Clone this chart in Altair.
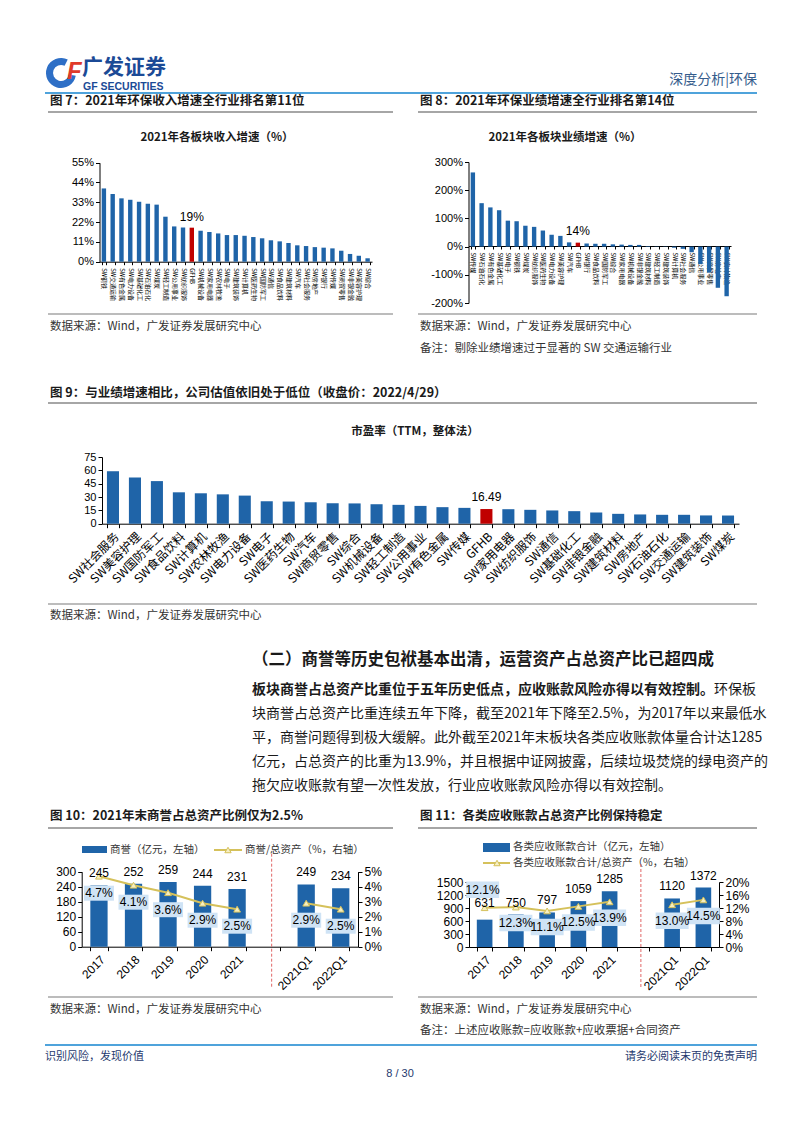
import altair as alt
import pandas as pd

W, H = 786, 1117


def P(v):
    return v - 8


FONT = "Liberation Sans, Noto Sans CJK SC, sans-serif"
CJK = "Noto Sans CJK SC, Liberation Sans, sans-serif"
BLUE = "#1F64A8"
RED = "#C00000"
GOLD = "#D5C15B"
TRI_FILL = "#F6EFC2"
BOX = "#CFE3F5"
INK = "#1A1A1A"
GRAY_LINE = "#A6A6A6"
HEAD_BLUE = "#4FA3DB"

ONE = pd.DataFrame({"k": [0]})

# ---------------- data ----------------
f7_cats = ["SW钢铁", "SW交通运输", "SW有色金属", "SW电力设备", "SW基础化工", "SW石油石化", "SW煤炭",
           "SW轻工制造", "SW公用事业", "SW纺织服饰", "GFHB", "SW机械设备", "SW家用电器", "SW农林牧渔",
           "SW电子", "SW建筑装饰", "SW计算机", "SW医药生物", "SW国防军工", "SW通信", "SW食品饮料",
           "SW建筑材料", "SW汽车", "SW社会服务", "SW房地产", "SW银行", "SW传媒", "SW商贸零售",
           "SW非银金融", "SW美容护理", "SW综合"]
f7_vals = [40.7, 37.6, 35.2, 34.4, 33.3, 32.2, 31.7, 25.0, 19.6, 19.0, 18.9, 17.2, 16.5, 15.7,
           14.8, 14.8, 14.4, 13.7, 13.0, 11.9, 11.3, 10.4, 9.1, 8.7, 8.1, 7.8, 7.4, 6.1, 4.3, 3.3, 1.9]
f7_ticks = [0, 11, 22, 33, 44, 55]

f8_cats = ["SW传媒", "SW石油石化", "SW有色金属", "SW基础化工", "SW电子", "SW钢铁", "SW煤炭",
           "SW纺织服饰", "SW医药生物", "SW电力设备", "SW美容护理", "SW汽车", "GFHB", "SW银行",
           "SW食品饮料", "SW国防军工", "SW综合", "SW家用电器", "SW机械设备", "SW非银金融",
           "SW建筑材料", "SW轻工制造", "SW建筑装饰", "SW计算机", "SW社会服务", "SW通信",
           "SW公用事业", "SW商贸零售", "SW房地产", "SW农林牧渔"]
f8_vals = [263, 154, 139, 129, 92, 90, 74, 70, 57, 42, 38, 15, 14, 11, 10, 10, 8, 7, 6, 6,
           2, 1, -1, -4, -8, -20, -62, -92, -146, -176]
f8_ticks = [-200, -100, 0, 100, 200, 300]

f9_cats = ["SW社会服务", "SW美容护理", "SW国防军工", "SW食品饮料", "SW计算机", "SW农林牧渔",
           "SW电力设备", "SW电子", "SW医药生物", "SW汽车", "SW商贸零售", "SW综合", "SW机械设备",
           "SW轻工制造", "SW公用事业", "SW有色金属", "SW传媒", "GFHB", "SW家用电器", "SW纺织服饰",
           "SW通信", "SW基础化工", "SW非银金融", "SW建筑材料", "SW房地产", "SW石油石化",
           "SW交通运输", "SW建筑装饰", "SW煤炭"]
f9_vals = [59.0, 52.0, 47.9, 35.3, 34.2, 33.0, 31.6, 25.2, 24.9, 24.1, 23.0, 22.8, 21.9, 21.2,
           20.0, 18.6, 17.8, 16.49, 16.3, 15.6, 14.9, 14.1, 12.6, 11.1, 10.4, 10.0, 10.0, 9.3, 9.2]
f9_ticks = [0, 15, 30, 45, 60, 75]

period_slots = ["2017", "2018", "2019", "2020", "2021", " ", "2021Q1", "2022Q1"]
periods = ["2017", "2018", "2019", "2020", "2021", "2021Q1", "2022Q1"]
segments = ["年度", "年度", "年度", "年度", "年度", "季度", "季度"]

f10_goodwill = [245, 252, 259, 244, 231, 249, 234]
f10_ratio = [4.7, 4.1, 3.6, 2.9, 2.5, 2.9, 2.5]
f10_left_ticks = [0, 60, 120, 180, 240, 300]
f10_right_ticks = [0, 1, 2, 3, 4, 5]

f11_recv = [631, 750, 797, 1059, 1285, 1120, 1372]
f11_ratio = [12.1, 12.3, 11.1, 12.5, 13.9, 13.0, 14.5]
f11_left_ticks = [0, 300, 600, 900, 1200, 1500]
f11_right_ticks = [0, 4, 8, 12, 16, 20]


# ---------------- helpers ----------------
def txt(s, x, y, size=11, weight="normal", align="left", color=INK, font=CJK, style="normal"):
    return alt.Chart(ONE).mark_text(
        align=align, baseline="middle", fontSize=size, fontWeight=weight, color=color,
        font=font, fontStyle=style
    ).encode(x=alt.value(P(x)), y=alt.value(P(y)), text=alt.value(s))


def hline(x1, x2, y, color=GRAY_LINE, width=1.5, dash=None):
    kw = dict(color=color, strokeWidth=width)
    if dash:
        kw["strokeDash"] = dash
    return alt.Chart(ONE).mark_rule(**kw).encode(
        x=alt.value(P(x1)), x2=alt.value(P(x2)), y=alt.value(P(y)))


layers = []
hl_color = alt.condition(alt.datum.cat == "GFHB", alt.value(RED), alt.value(BLUE))

# ---------------- header ----------------
layers += [
    alt.Chart(ONE).mark_arc(color="#2E6FC6", theta=1.75, theta2=6.75, radius=15, radius2=8).encode(
        x=alt.value(P(61)), y=alt.value(P(73))),
    txt("F", 67, 72, size=24, weight="bold", color="#E03A2A", font=FONT, style="italic"),
    txt("广发证券", 82, 68, size=21, weight="bold", color="#1B4A96"),
    txt("GF SECURITIES", 83, 87, size=10.5, weight="bold", color="#1B4A96", font=FONT),
    txt("深度分析|环保", 757, 80, size=14, align="right", color="#355C8C"),
    hline(45, 757, 93, color=HEAD_BLUE, width=2),
]

# ---------------- fig 7 ----------------
layers += [
    txt("图 7：2021年环保收入增速全行业排名第11位", 50, 101, size=12.5, weight="bold"),
    hline(48, 393, 112, width=2),
    txt("2021年各板块收入增速（%）", 217, 138, size=11.5, weight="bold", align="center"),
    hline(48, 393, 314),
    txt("数据来源：Wind，广发证券发展研究中心", 50, 327, size=11.5, color="#333333"),
]
df7 = pd.DataFrame({"cat": f7_cats, "v": f7_vals})


def x7(axis=True):
    return alt.X("cat:N", scale=alt.Scale(domain=f7_cats, range=[P(99.5), P(372)], paddingInner=0.5,
                                          paddingOuter=0.25),
                 axis=alt.Axis(orient="bottom", offset=P(261.7) - H, labelAngle=90, labelFontSize=6,
                               labelFont=CJK, labelPadding=3, tickBand="extent", tickSize=3,
                               title=None, labelOverlap=False) if axis else None)


def y7(axis=True):
    return alt.Y("v:Q", scale=alt.Scale(domain=[0, 55], range=[P(261.7), P(162.7)], nice=False),
                 axis=alt.Axis(orient="left", offset=-P(99.5), values=f7_ticks,
                               labelExpr="datum.value + '%'", title=None, labelFontSize=11)
                 if axis else None)


layers += [
    alt.Chart(df7).mark_bar().encode(x=x7(), y=y7(), color=hl_color),
    alt.Chart(df7).transform_filter(alt.datum.cat == "GFHB").transform_calculate(
        lab="format(datum.v, '.0f') + '%'").mark_text(dy=-11, fontSize=12, font=FONT, color="#000").encode(
        x=x7(False), y=y7(False), text="lab:N"),
]

# ---------------- fig 8 ----------------
layers += [
    txt("图 8：2021年环保业绩增速全行业排名第14位", 420, 101, size=12.5, weight="bold"),
    hline(418, 757, 112, width=2),
    txt("2021年各板块业绩增速（%）", 565, 138, size=11.5, weight="bold", align="center"),
    hline(418, 757, 314),
    txt("数据来源：Wind，广发证券发展研究中心", 420, 327, size=11.5, color="#333333"),
    txt("备注：剔除业绩增速过于显著的 SW 交通运输行业", 420, 349, size=11.5, color="#333333"),
]
df8 = pd.DataFrame({"cat": f8_cats, "v": f8_vals})


def x8(axis=True):
    return alt.X("cat:N", scale=alt.Scale(domain=f8_cats, range=[P(468.5), P(731)], paddingInner=0.5,
                                          paddingOuter=0.25),
                 axis=alt.Axis(orient="bottom", offset=P(246) - H, labelAngle=90, labelFontSize=6,
                               labelFont=CJK, labelPadding=3, tickBand="extent", tickSize=3,
                               title=None, labelOverlap=False) if axis else None)


def y8(axis=True):
    return alt.Y("v:Q", scale=alt.Scale(domain=[-200, 300], range=[P(303), P(162)], nice=False),
                 axis=alt.Axis(orient="left", offset=-P(468.5), values=f8_ticks,
                               labelExpr="datum.value + '%'", title=None, labelFontSize=11)
                 if axis else None)


layers += [
    alt.Chart(df8).mark_bar().encode(x=x8(), y=y8(), color=hl_color),
    alt.Chart(df8).transform_filter(alt.datum.cat == "GFHB").transform_calculate(
        lab="format(datum.v, '.0f') + '%'").mark_text(dy=-12, fontSize=12, font=FONT, color="#000").encode(
        x=x8(False), y=y8(False), text="lab:N"),
]

# ---------------- fig 9 ----------------
layers += [
    txt("图 9：与业绩增速相比，公司估值依旧处于低位（收盘价：2022/4/29）", 50, 393, size=12.5, weight="bold"),
    hline(48, 757, 403, width=2),
    txt("市盈率（TTM，整体法）", 415, 432, size=11.5, weight="bold", align="center"),
    hline(48, 757, 604),
    txt("数据来源：Wind，广发证券发展研究中心", 50, 616, size=11.5, color="#333333"),
]
df9 = pd.DataFrame({"cat": f9_cats, "v": f9_vals})


def x9(axis=True):
    return alt.X("cat:N", scale=alt.Scale(domain=f9_cats, range=[P(102), P(739)], paddingInner=0.45,
                                          paddingOuter=0.225),
                 axis=alt.Axis(orient="bottom", offset=P(523.7) - H, labelAngle=-45, labelFontSize=12,
                               labelFont=CJK, labelPadding=3, tickBand="extent", tickSize=4,
                               title=None, labelOverlap=False) if axis else None)


def y9(axis=True):
    return alt.Y("v:Q", scale=alt.Scale(domain=[0, 75], range=[P(523.7), P(457)], nice=False),
                 axis=alt.Axis(orient="left", offset=-P(102), values=f9_ticks, title=None,
                               labelFontSize=11) if axis else None)


layers += [
    alt.Chart(df9).mark_bar().encode(x=x9(), y=y9(), color=hl_color),
    alt.Chart(df9).transform_filter(alt.datum.cat == "GFHB").transform_calculate(
        lab="format(datum.v, '.2f')").mark_text(dy=-12, fontSize=12, font=FONT, color="#000").encode(
        x=x9(False), y=y9(False), text="lab:N"),
]

# ---------------- section text ----------------
para = [
    "块商誉占总资产比重连续五年下降，截至2021年下降至2.5%，为2017年以来最低水",
    "平，商誉问题得到极大缓解。此外截至2021年末板块各类应收账款体量合计达1285",
    "亿元，占总资产的比重为13.9%，并且根据中证网披露，后续垃圾焚烧的绿电资产的",
    "拖欠应收账款有望一次性发放，行业应收账款风险亦得以有效控制。",
]
layers += [
    txt("（二）商誉等历史包袱基本出清，运营资产占总资产比已超四成", 252, 660, size=16.5, weight="bold"),
    txt("板块商誉占总资产比重位于五年历史低点，应收账款风险亦得以有效控制。", 252, 690, size=14,
        weight="bold"),
    txt("环保板", 714, 690, size=14),
]
for i, line in enumerate(para):
    layers.append(txt(line, 252, 714 + 24 * i, size=14))

# ---------------- fig 10 ----------------
layers += [
    txt("图 10：2021年末商誉占总资产比例仅为2.5%", 50, 816, size=12.5, weight="bold"),
    hline(48, 393, 828, width=2),
    alt.Chart(ONE).mark_rect(color=BLUE).encode(x=alt.value(P(82)), x2=alt.value(P(107)),
                                                y=alt.value(P(846)), y2=alt.value(P(853))),
    txt("商誉（亿元，左轴）", 110, 850, size=10.5, color="#333333"),
    hline(214, 242, 850, color=GOLD, width=2),
    alt.Chart(ONE).mark_point(shape="triangle-up", filled=True, fill=TRI_FILL, stroke=GOLD,
                              strokeWidth=1, size=40, opacity=1).encode(
        x=alt.value(P(228)), y=alt.value(P(850))),
    txt("商誉/总资产（%，右轴）", 245, 850, size=10.5, color="#333333"),
    hline(48, 393, 997),
    txt("数据来源：Wind，广发证券发展研究中心", 50, 1010, size=11.5, color="#333333"),
]
df10 = pd.DataFrame({"cat": periods, "bar": f10_goodwill, "r": f10_ratio, "seg": segments})
sep = pd.DataFrame({"cat": [" "]})


def xq(x0, x1, ybase, axis=True):
    return alt.X("cat:N", scale=alt.Scale(domain=period_slots, range=[P(x0), P(x1)], paddingInner=0.5,
                                          paddingOuter=0.25),
                 axis=alt.Axis(orient="bottom", offset=P(ybase) - H, labelAngle=-45, labelFontSize=12,
                               labelFont=FONT, labelPadding=3, tickBand="extent", tickSize=4,
                               title=None, labelOverlap=False) if axis else None)


def yl(dom, ticks, ybot, ytop, xaxis, axis=True):
    return alt.Y("bar:Q", scale=alt.Scale(domain=dom, range=[P(ybot), P(ytop)], nice=False),
                 axis=alt.Axis(orient="left", offset=-P(xaxis), values=ticks, title=None, format="d",
                               labelFontSize=12) if axis else None)


def yr(dom, ticks, ybot, ytop, xaxis, axis=True):
    return alt.Y("r:Q", scale=alt.Scale(domain=dom, range=[P(ybot), P(ytop)], nice=False),
                 axis=alt.Axis(orient="right", offset=P(xaxis) - W, values=ticks, title=None,
                               labelExpr="datum.value + '%'", labelFontSize=12) if axis else None)


def combo(df, x0, x1, ybot, ytop, ltop, ldom, lticks, rdom, rticks, box_size, special_2017):
    X = lambda a=True: xq(x0, x1, ybot, a)
    YL = lambda a=True: yl(ldom, lticks, ybot, ltop, x0, a)
    YR = lambda a=True: yr(rdom, rticks, ybot, ytop, x1, a)
    box_shape = "M-1,-0.5L1,-0.5L1,0.5L-1,0.5Z"
    out = [
        alt.Chart(df).mark_bar(color=BLUE).encode(x=X(), y=YL()),
        alt.Chart(sep).mark_rule(color="#E06666", strokeDash=[3, 2], strokeWidth=1).encode(
            x=X(False), y=alt.value(P(ytop - 18)), y2=alt.value(P(ybot + 40))),
        alt.Chart(df).mark_line(color=GOLD, strokeWidth=2).encode(x=X(False), y=YR(), detail="seg:N"),
        alt.Chart(df).mark_point(shape="triangle-up", filled=True, fill=TRI_FILL, stroke=GOLD,
                                 strokeWidth=1, size=45, opacity=1).encode(x=X(False), y=YR(False)),
    ]
    lab = "format(datum.r, '.1f') + '%'"
    if special_2017:
        above = alt.datum.cat == "2017"
        below = alt.datum.cat != "2017"
        groups = [(above, -2, -18, -17), (below, 0, 16, -12)]
    else:
        groups = [(alt.datum.cat == alt.datum.cat, 0, 17, -12)]
    for flt, pdx, pdy, bdy in groups:
        out += [
            alt.Chart(df).transform_filter(flt).mark_point(
                shape=box_shape, filled=True, fill=BOX, opacity=1, size=box_size, xOffset=pdx,
                yOffset=pdy).encode(x=X(False), y=YR(False)),
            alt.Chart(df).transform_filter(flt).transform_calculate(lab=lab).mark_text(
                dx=pdx, dy=pdy, fontSize=12, font=FONT, color="#000").encode(
                x=X(False), y=YR(False), text="lab:N"),
        ]
    for flt, pdx, pdy, bdy in groups:
        out.append(
            alt.Chart(df).transform_filter(flt).mark_text(dy=bdy, fontSize=12, font=FONT, color="#000").encode(
                x=X(False), y=YL(False), text="bar:Q"))
    return out


layers += combo(df10, 81.7, 358, 946.7, 871.7, 871.7, [0, 300], f10_left_ticks, [0, 5], f10_right_ticks,
                900, False)

# ---------------- fig 11 ----------------
layers += [
    txt("图 11：各类应收账款占总资产比例保持稳定", 420, 816, size=12.5, weight="bold"),
    hline(418, 757, 828, width=2),
    alt.Chart(ONE).mark_rect(color=BLUE).encode(x=alt.value(P(483)), x2=alt.value(P(510)),
                                                y=alt.value(P(843)), y2=alt.value(P(852))),
    txt("各类应收账款合计（亿元，左轴）", 513, 847, size=10.5, color="#333333"),
    hline(483, 510, 863, color=GOLD, width=2),
    alt.Chart(ONE).mark_point(shape="triangle-up", filled=True, fill=TRI_FILL, stroke=GOLD,
                              strokeWidth=1, size=40, opacity=1).encode(
        x=alt.value(P(497)), y=alt.value(P(863))),
    txt("各类应收账款合计/总资产（%，右轴）", 513, 863, size=10.5, color="#333333"),
    hline(418, 757, 997),
    txt("数据来源：Wind，广发证券发展研究中心", 420, 1010, size=11.5, color="#333333"),
    txt("备注：上述应收账款=应收账款+应收票据+合同资产", 420, 1031, size=11.5, color="#333333"),
]
df11 = pd.DataFrame({"cat": periods, "bar": f11_recv, "r": f11_ratio, "seg": segments})
layers += combo(df11, 469, 719, 947, 882, 882, [0, 1500], f11_left_ticks, [0, 20], f11_right_ticks,
                1089, True)

# ---------------- footer ----------------
layers += [
    hline(45, 757, 1045, color=HEAD_BLUE, width=2),
    txt("识别风险，发现价值", 45, 1057, size=11, color="#1F3A6E"),
    txt("请务必阅读末页的免责声明", 757, 1057, size=11, align="right", color="#1F3A6E"),
    txt("8 / 30", 400, 1074, size=11, align="center", color="#1F3A6E", font=FONT),
]

chart = alt.layer(*layers).resolve_scale(x="independent", y="independent").properties(
    width=W, height=H, autosize=alt.AutoSizeParams(type="none"), padding=0, background="white"
).configure_view(stroke=None).configure_axis(
    grid=False, domainColor="#000000", tickColor="#000000", labelColor="#000000", labelFont=FONT,
    domainWidth=1, tickWidth=1, tickSize=4
)

chart.save("out.html", embed_options={"renderer": "svg", "actions": False})
